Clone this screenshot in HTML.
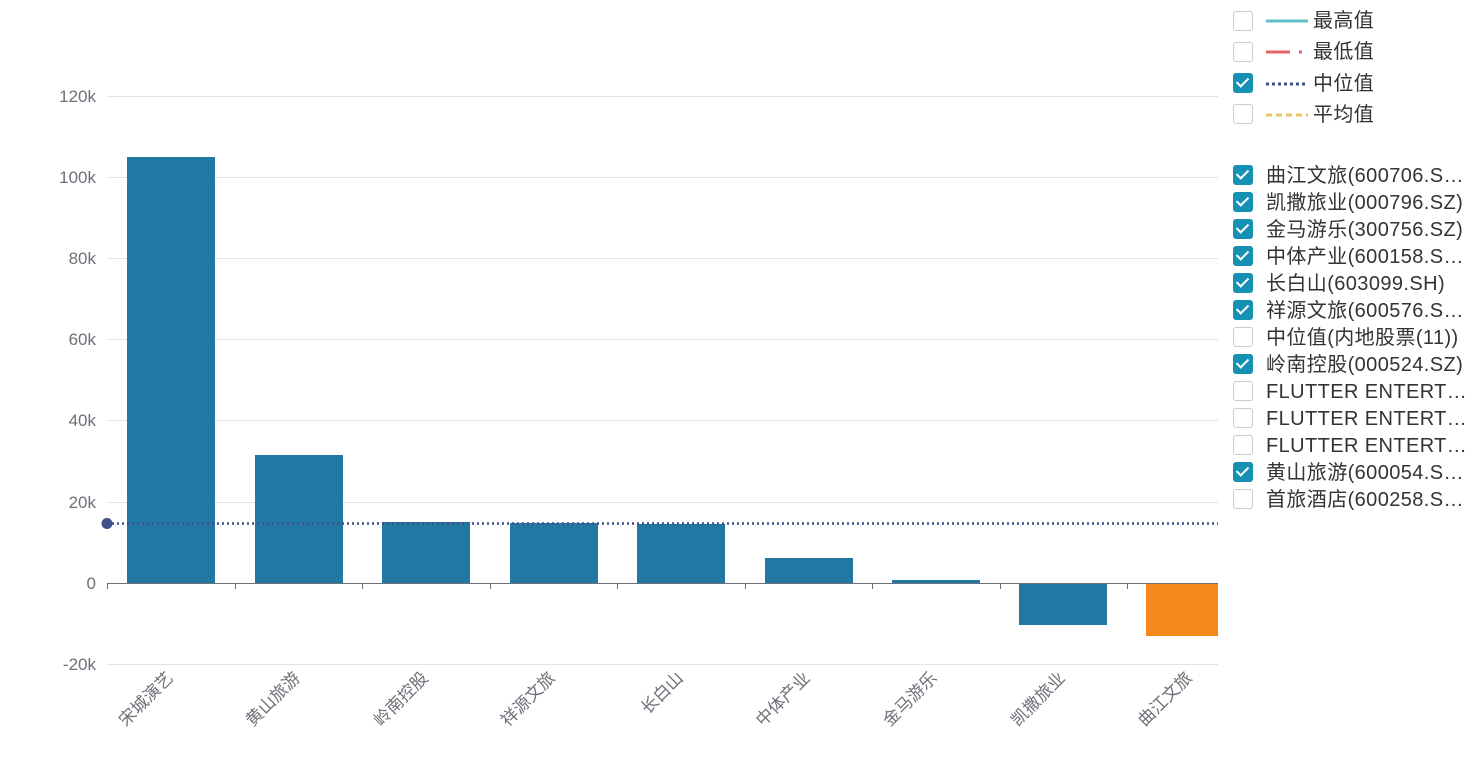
<!DOCTYPE html>
<html><head><meta charset="utf-8"><style>
body{margin:0;background:#fff;width:1477px;height:763px;overflow:hidden;font-family:"Liberation Sans","Noto Sans CJK SC",sans-serif}
.cb{position:absolute;left:1233px;width:18px;height:18px;border:1px solid #ccc;border-radius:3px;background:#fff}
.cb.on{background:#1591b3;border-color:#1591b3}
.cb.on::after{content:"";position:absolute;left:5px;top:1px;width:5px;height:10px;border:solid #fff;border-width:0 2.5px 2.5px 0;transform:rotate(45deg)}
.t{position:absolute;left:1266px;font-size:20px;letter-spacing:0.4px;color:#333;white-space:nowrap;line-height:22px}
</style></head><body>
<svg width="1477" height="763" style="position:absolute;left:0;top:0" font-family="Liberation Sans, Noto Sans CJK SC, sans-serif">
<g stroke="#e0e3ef" stroke-width="1">
<line x1="107" x2="1218" y1="96.5" y2="96.5"/><line x1="107" x2="1218" y1="177.5" y2="177.5"/>
<line x1="107" x2="1218" y1="258.5" y2="258.5"/><line x1="107" x2="1218" y1="339.5" y2="339.5"/>
<line x1="107" x2="1218" y1="420.5" y2="420.5"/><line x1="107" x2="1218" y1="502.5" y2="502.5"/>
<line x1="107" x2="1218" y1="664.5" y2="664.5"/></g>
<g fill="#6e7079" font-size="17" text-anchor="end">
<text x="96" y="102">120k</text><text x="96" y="183">100k</text><text x="96" y="264">80k</text>
<text x="96" y="345">60k</text><text x="96" y="426">40k</text><text x="96" y="508">20k</text>
<text x="96" y="589">0</text><text x="96" y="670">-20k</text></g>
<g fill="#2277a3">
<rect x="127" y="157" width="88" height="426"/><rect x="255" y="455" width="88" height="128"/>
<rect x="382" y="522" width="88" height="61"/><rect x="510" y="523" width="88" height="60"/>
<rect x="637" y="524" width="88" height="59"/><rect x="765" y="558" width="88" height="25"/>
<rect x="892" y="580" width="88" height="3"/><rect x="1019" y="583" width="88" height="42"/></g>
<rect x="1146" y="583" width="72" height="53" fill="#f5891c"/>
<line x1="107" x2="1218" y1="583.5" y2="583.5" stroke="#6e7079"/>
<g stroke="#6e7079"><line x1="107.5" x2="107.5" y1="583" y2="589"/><line x1="235.5" x2="235.5" y1="583" y2="589"/><line x1="362.5" x2="362.5" y1="583" y2="589"/><line x1="490.5" x2="490.5" y1="583" y2="589"/><line x1="617.5" x2="617.5" y1="583" y2="589"/><line x1="745.5" x2="745.5" y1="583" y2="589"/><line x1="872.5" x2="872.5" y1="583" y2="589"/><line x1="1000.5" x2="1000.5" y1="583" y2="589"/><line x1="1127.5" x2="1127.5" y1="583" y2="589"/></g>
<line x1="107" x2="1218" y1="523.5" y2="523.5" stroke="#3e4f8c" stroke-width="2.5" stroke-dasharray="2,3"/>
<circle cx="107" cy="523.5" r="5.5" fill="#3e4f8c"/>
<g fill="#6e7079" font-size="17" text-anchor="end">
<text transform="translate(174,679) rotate(-45)">宋城演艺</text>
<text transform="translate(301,679) rotate(-45)">黄山旅游</text>
<text transform="translate(429,679) rotate(-45)">岭南控股</text>
<text transform="translate(556,679) rotate(-45)">祥源文旅</text>
<text transform="translate(684,679) rotate(-45)">长白山</text>
<text transform="translate(811,679) rotate(-45)">中体产业</text>
<text transform="translate(938,679) rotate(-45)">金马游乐</text>
<text transform="translate(1066,679) rotate(-45)">凯撒旅业</text>
<text transform="translate(1193,679) rotate(-45)">曲江文旅</text></g>
<line x1="1266" x2="1308" y1="21" y2="21" stroke="#5fc0c8" stroke-width="3"/>
<line x1="1266" x2="1290" y1="52" y2="52" stroke="#e06464" stroke-width="3"/><line x1="1299" x2="1302" y1="52" y2="52" stroke="#e06464" stroke-width="3"/>
<line x1="1266" x2="1308" y1="84" y2="84" stroke="#3e4f8c" stroke-width="3" stroke-dasharray="3,3"/>
<line x1="1266" x2="1308" y1="115" y2="115" stroke="#eac45c" stroke-width="3" stroke-dasharray="6,4"/>
</svg>
<div class="cb" style="top:11px"></div><div class="t" style="left:1313px;top:10px">最高值</div>
<div class="cb" style="top:42px"></div><div class="t" style="left:1313px;top:41px">最低值</div>
<div class="cb on" style="top:73px"></div><div class="t" style="left:1313px;top:73px">中位值</div>
<div class="cb on" style="display:none"></div>
<div class="cb" style="top:104px"></div><div class="t" style="left:1313px;top:104px">平均值</div>
<div class="cb on" style="top:165px"></div><div class="t" style="top:165px">曲江文旅(600706.S…</div>
<div class="cb on" style="top:192px"></div><div class="t" style="top:192px">凯撒旅业(000796.SZ)</div>
<div class="cb on" style="top:219px"></div><div class="t" style="top:219px">金马游乐(300756.SZ)</div>
<div class="cb on" style="top:246px"></div><div class="t" style="top:246px">中体产业(600158.S…</div>
<div class="cb on" style="top:273px"></div><div class="t" style="top:273px">长白山(603099.SH)</div>
<div class="cb on" style="top:300px"></div><div class="t" style="top:300px">祥源文旅(600576.S…</div>
<div class="cb" style="top:327px"></div><div class="t" style="top:327px">中位值(内地股票(11))</div>
<div class="cb on" style="top:354px"></div><div class="t" style="top:354px">岭南控股(000524.SZ)</div>
<div class="cb" style="top:381px"></div><div class="t" style="top:381px">FLUTTER ENTERT…</div>
<div class="cb" style="top:408px"></div><div class="t" style="top:408px">FLUTTER ENTERT…</div>
<div class="cb" style="top:435px"></div><div class="t" style="top:435px">FLUTTER ENTERT…</div>
<div class="cb on" style="top:462px"></div><div class="t" style="top:462px">黄山旅游(600054.S…</div>
<div class="cb" style="top:489px"></div><div class="t" style="top:489px">首旅酒店(600258.S…</div>
</body></html>
